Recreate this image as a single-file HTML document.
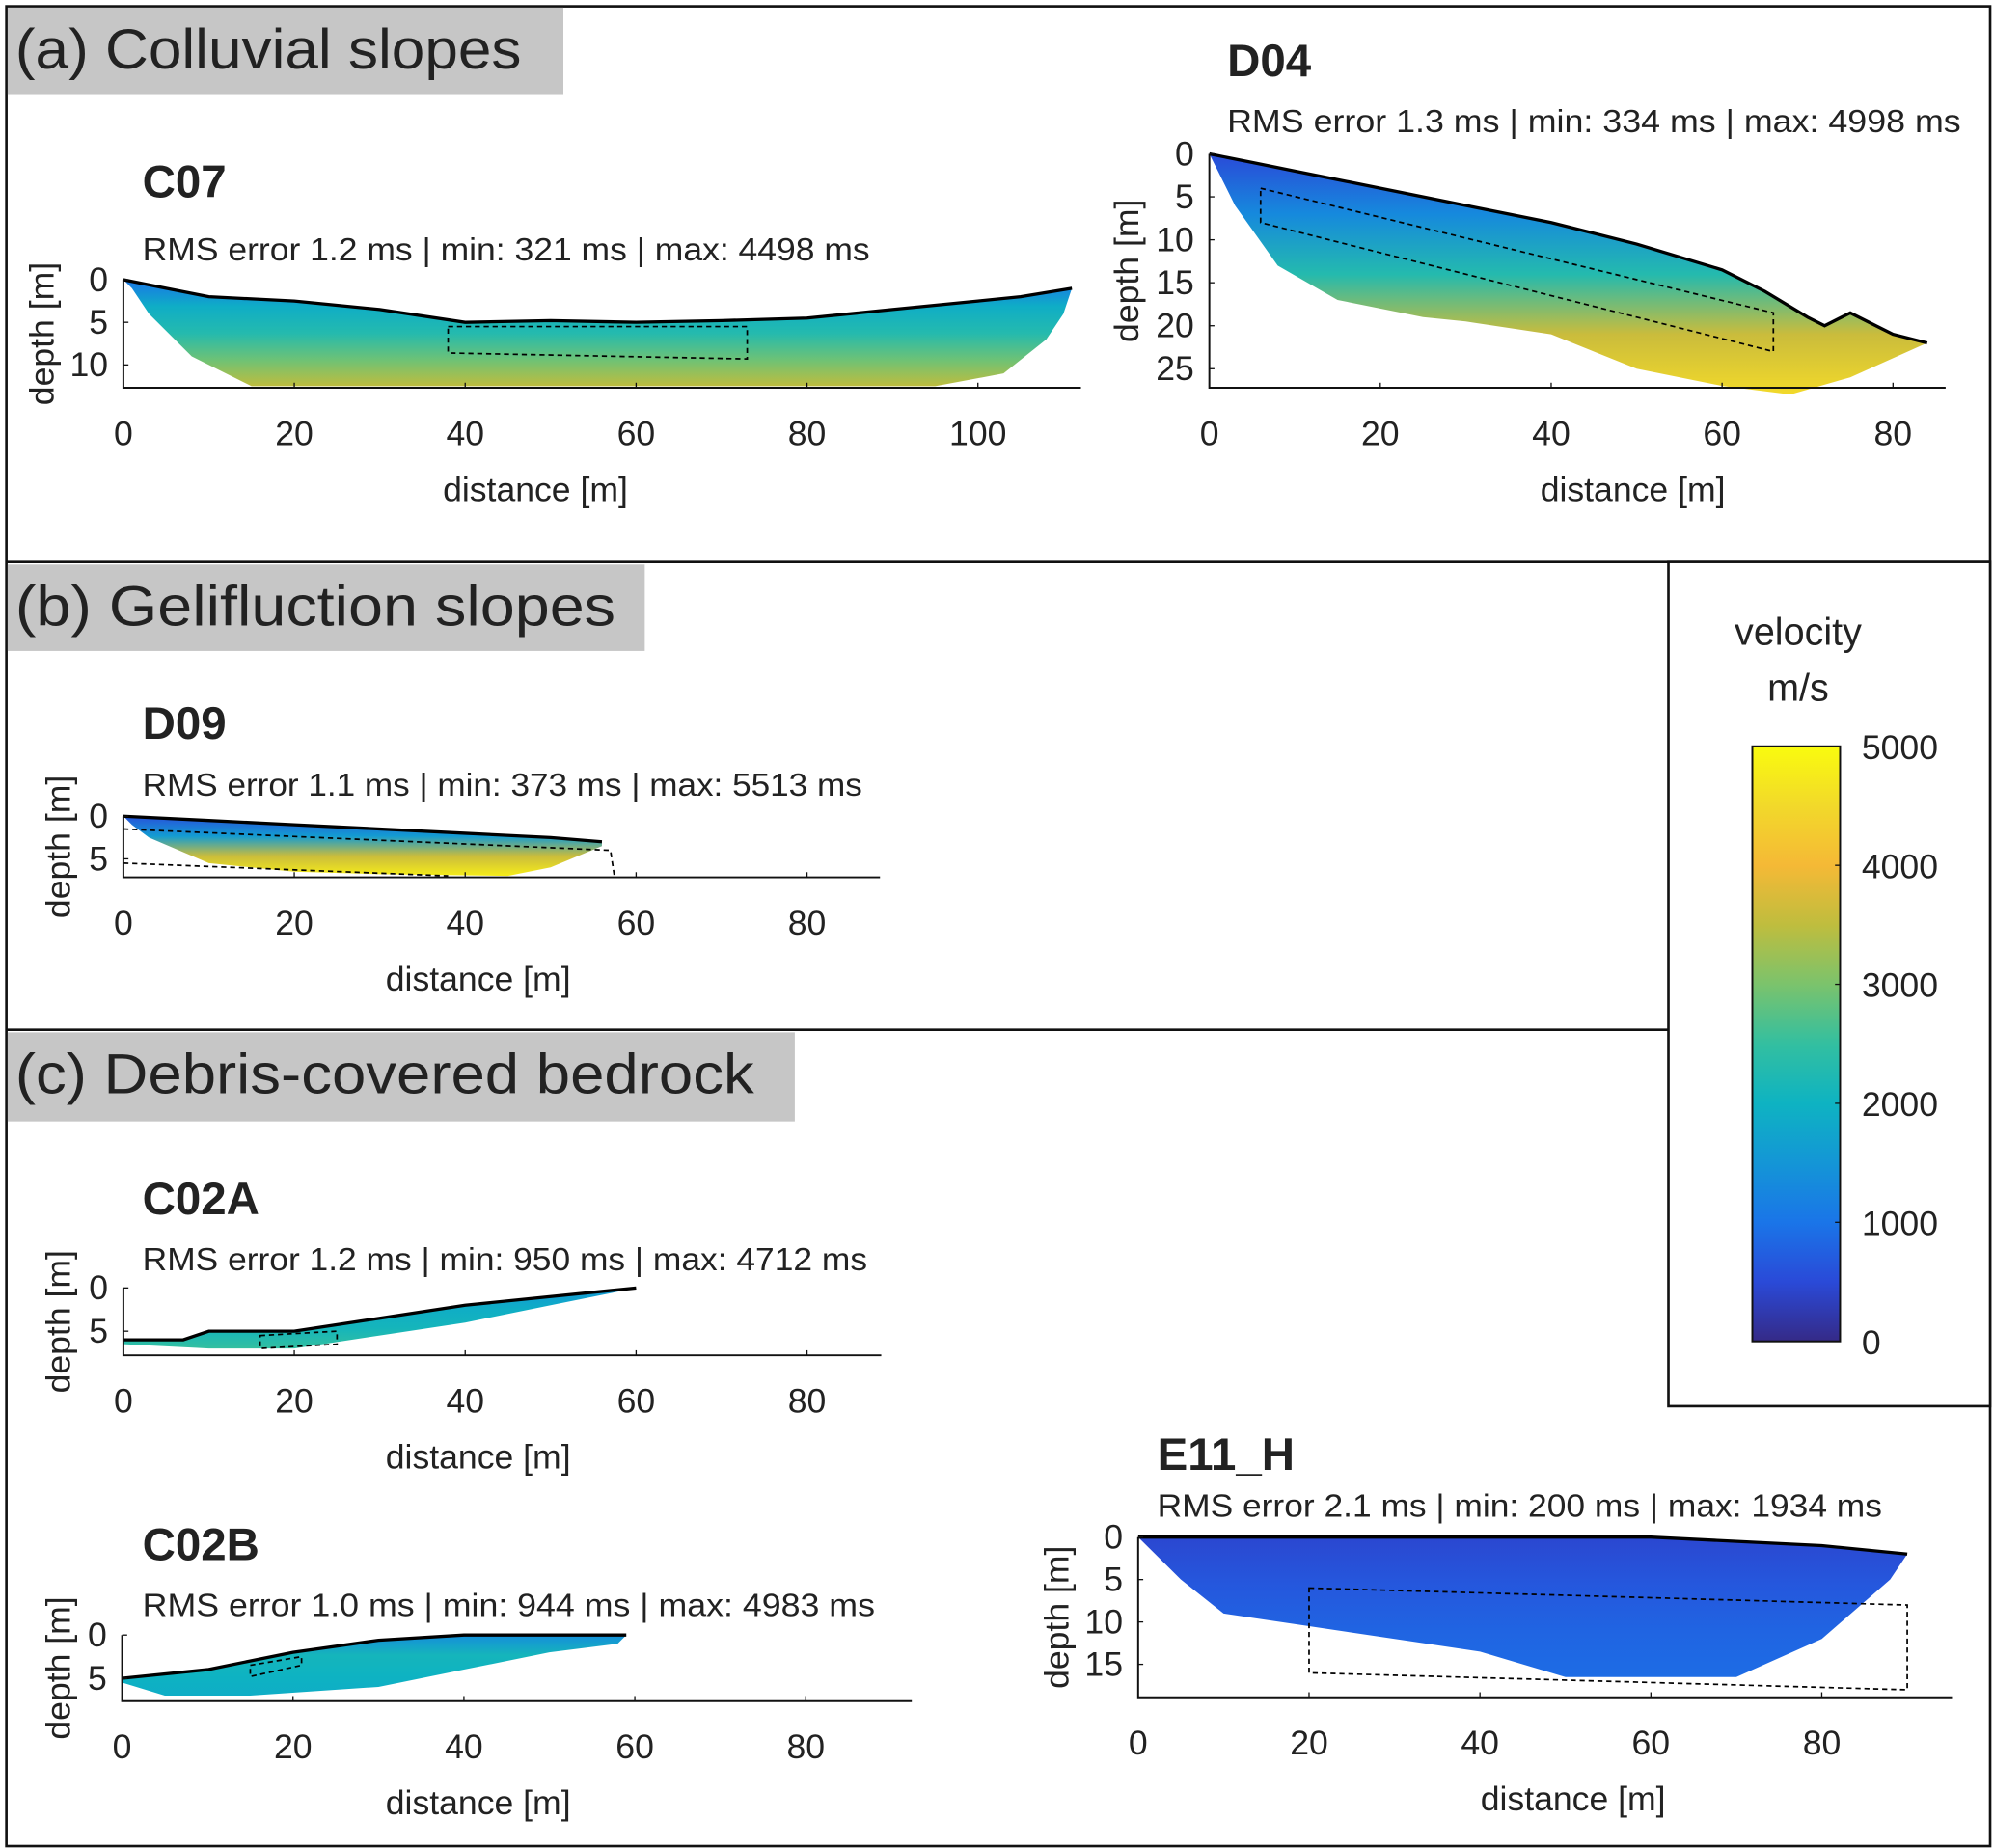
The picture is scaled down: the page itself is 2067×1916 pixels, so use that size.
<!DOCTYPE html>
<html><head><meta charset="utf-8"><style>
html,body{margin:0;padding:0;background:#fff}
svg{display:block}
text{font-family:"Liberation Sans",sans-serif;fill:#222}
</style></head><body>
<svg id="fig" width="2067" height="1916" viewBox="0 0 1568 1453.5" xmlns="http://www.w3.org/2000/svg">
<defs id="defs"></defs>
<rect x="5" y="5" width="1560" height="1447" fill="#fff" stroke="#111" stroke-width="2"/>
<line x1="5" y1="442" x2="1565" y2="442" stroke="#111" stroke-width="2"/>
<line x1="5" y1="810" x2="1312" y2="810" stroke="#111" stroke-width="2"/>
<rect x="1312" y="442" width="253" height="664" fill="#fff" stroke="#111" stroke-width="2"/>
<g><rect x="6" y="6" width="437" height="68" fill="#c6c6c6"/><text x="12" y="54" font-size="44" textLength="398" lengthAdjust="spacingAndGlyphs">(a) Colluvial slopes</text></g>
<g><rect x="6" y="444" width="501" height="68" fill="#c6c6c6"/><text x="12" y="492" font-size="44" textLength="472" lengthAdjust="spacingAndGlyphs">(b) Gelifluction slopes</text></g>
<g><rect x="6" y="812" width="619" height="70" fill="#c6c6c6"/><text x="12" y="860" font-size="44" textLength="581" lengthAdjust="spacingAndGlyphs">(c) Debris-covered bedrock</text></g>
<g id="cbar"></g>
<g id="panels"></g>
</svg>
<script>
// colormap (parula-like) stops: value fraction -> color
const cmapPos = [0, 0.1, 0.2, 0.3, 0.4, 0.5, 0.6, 0.7, 0.8, 0.9, 1.0];
const cmapCol = ["#352a87","#2a4ad8","#1a75e8","#1496d6","#0eb3c2","#33bfa0","#7bc36c","#bfbd3e","#f5b936","#f2d92a","#f9fb0e"];
const cbTicks = [0, 1000, 2000, 3000, 4000, 5000];

// C07
const c07SurfX = [0,5,10,20,30,40,50,60,70,80,90,100,105,111];
const c07SurfZ = [0,1,2,2.5,3.5,5,4.8,5,4.8,4.5,3.5,2.5,2,1];
const c07BotX = [111,110,108,103,95,80,60,40,20,15,8,3,1];
const c07BotZ = [1,4,7,11,12.5,12.5,12.5,12.5,12.5,12.5,9,4,1];
const c07Vel = [1000,1900,2300,2900,3500];
// C07 dashed box
const c07BoxX = [38,73,73,38]; const c07BoxZ = [5.5,5.5,9.3,8.6];
// D04
const d04SurfX = [0,5,10,20,30,40,50,60,65,70,72,75,78,80,84];
const d04SurfZ = [0,1,2,4,6,8,10.5,13.5,16,19,20,18.5,20,21,22];
const d04BotX = [84,75,68,60,50,40,30,25,15,8,3,0];
const d04BotZ = [22,26,28,27,25,21,19.5,19,17,13,6,0];
const d04Vel = [500,1300,2300,3600,4500];
const d04BoxX = [6,66,66,6]; const d04BoxZ = [4,18.5,23,8];
// D09
const d09SurfX = [0,10,20,30,40,50,56];
const d09SurfZ = [0,0.5,1,1.5,2,2.5,3];
const d09BotX = [56,50,45,30,20,10,3,1];
const d09BotZ = [3.5,6,7,6.8,6.5,5.5,2.5,1];
const d09Vel = [600,1600,3600,4800];
const d09Dash1X = [0,57,57.5]; const d09Dash1Z = [1.5,4,7.3];
const d09Dash2X = [0,38]; const d09Dash2Z = [5.5,7];
// C02A
const c02aSurfX = [0,7,10,20,30,40,50,60];
const c02aSurfZ = [6,6,5,5,3.5,2,1,0];
const c02aBotX = [59,50,40,30,20,10,0];
const c02aBotZ = [0.2,2,4,5.5,7,7,6.5];
const c02aVel = [1500,1900,2100,2500];
const c02aBoxX = [16,25,25,16]; const c02aBoxZ = [5.5,5,6.5,7];
// C02B
const c02bSurfX = [0,10,20,30,40,50,59];
const c02bSurfZ = [5,4,2,0.6,0,0,0];
const c02bBotX = [58,50,40,30,15,5,0];
const c02bBotZ = [1,2,4,6,7,7,5.5];
const c02bVel = [1400,2100,2000,1900];
const c02bBoxX = [15,21,21,15]; const c02bBoxZ = [3.5,2.5,3.5,4.8];
// E11_H
const e11SurfX = [0,30,60,80,90];
const e11SurfZ = [0,0,0,1,2];
const e11BotX = [90,88,80,70,50,40,20,10,5,0];
const e11BotZ = [2,5,12,16.5,16.5,13.5,10.5,9,5,0];
const e11Vel = [450,650,800,900];
const e11BoxX = [20,90,90,20]; const e11BoxZ = [6,8,18,16];

const NS = "http://www.w3.org/2000/svg";
const svg = document.getElementById("fig");
const defs = document.getElementById("defs");
function mk(tag, attrs, parent){const e=document.createElementNS(NS,tag);for(const k in attrs)e.setAttribute(k,attrs[k]);(parent||svg).appendChild(e);return e;}
function hex(c){return [1,3,5].map(i=>parseInt(c.substr(i,2),16));}
function cmap(v){let f=Math.max(0,Math.min(1,v/5000));for(let i=1;i<cmapPos.length;i++){if(f<=cmapPos[i]){const t=(f-cmapPos[i-1])/(cmapPos[i]-cmapPos[i-1]);const a=hex(cmapCol[i-1]),b=hex(cmapCol[i]);return "rgb("+a.map((x,j)=>Math.round(x+(b[j]-x)*t)).join(",")+")";}}return cmapCol[cmapCol.length-1];}

// colorbar
(function(){
  const g=document.getElementById("cbar");
  const gr=mk("linearGradient",{id:"cbgrad",x1:0,y1:1,x2:0,y2:0},defs);
  cmapPos.forEach((p,i)=>mk("stop",{offset:p,"stop-color":cmapCol[i]},gr));
  const y0=1055,y1=587;const ys=v=>y0+(y1-y0)*v/5000;
  const r=mk("rect",{x:1378,y:587,width:69,height:468,fill:"url(#cbgrad)",stroke:"#111","stroke-width":1.5},g);
  
  
  cbTicks.forEach(v=>{
    mk("line",{x1:1443,x2:1447,y1:ys(v),y2:ys(v),stroke:"#111"},g);
    const t=mk("text",{x:1464,y:ys(v)+10,"font-size":27},g);t.textContent=v;
    
    
  });
  const t1=mk("text",{x:1414,y:507,"font-size":30,"text-anchor":"middle"},g);t1.textContent="velocity";
  
  
  const t2=mk("text",{x:1414,y:551,"font-size":30,"text-anchor":"middle"},g);t2.textContent="m/s";
  
  
})();

function panel(c){
  const g=mk("g",{},document.getElementById("panels"));
  
  
  const X=d=>c.ox+d*c.sx, Z=d=>c.oy+d*c.sz;
  const t=mk("text",{x:c.tx,y:c.ty,"font-size":36,"font-weight":"bold"},g);t.textContent=c.title;
  
  
  const s=mk("text",{x:c.tx,y:c.sy,"font-size":25.5,textLength:c.sw,lengthAdjust:"spacingAndGlyphs"},g);s.textContent=c.sub;
  
  
  const gid="g_"+c.name;
  const zmax=Math.max(...c.botZ);const zmin=Math.min(...c.surfZ);
  const gr=mk("linearGradient",{id:gid,gradientUnits:"userSpaceOnUse",x1:0,y1:Z(zmin),x2:0,y2:Z(zmax)},defs);
  c.vel.forEach((v,i)=>mk("stop",{offset:i/(c.vel.length-1),"stop-color":cmap(v)},gr));
  let pts=[];c.surfX.forEach((x,i)=>pts.push(X(x)+","+Z(c.surfZ[i])));c.botX.forEach((x,i)=>pts.push(X(x)+","+Z(c.botZ[i])));
  const poly=mk("polygon",{points:pts.join(" "),fill:"url(#"+gid+")"},g);
  
  
  const sl=mk("polyline",{points:c.surfX.map((x,i)=>X(x)+","+Z(c.surfZ[i])).join(" "),fill:"none",stroke:"#000","stroke-width":2.5},g);
  
  
  (c.dashes||[]).forEach((d,k)=>{
    const e=mk(d.closed?"polygon":"polyline",{points:d.x.map((x,i)=>X(x)+","+Z(d.z[i])).join(" "),fill:"none",stroke:"#000","stroke-width":1.3,"stroke-dasharray":"4,3"},g);
    
    
  });
  const yb=c.axY;
  const ax=mk("path",{d:"M"+c.ox+","+Z(c.yTicks[0])+" V"+yb+" H"+c.axEnd,fill:"none",stroke:"#111","stroke-width":1.5},g);
  
  
  c.xTicks.forEach(v=>{
    mk("line",{x1:X(v),x2:X(v),y1:yb,y2:yb-4,stroke:"#111"},g);
    const l=mk("text",{x:X(v),y:yb+45,"font-size":27,"text-anchor":"middle"},g);l.textContent=v;
    
    
  });
  c.yTicks.forEach(v=>{
    mk("line",{x1:c.ox,x2:c.ox+4,y1:Z(v),y2:Z(v),stroke:"#111"},g);
    const l=mk("text",{x:c.ox-12,y:Z(v)+9,"font-size":27,"text-anchor":"end"},g);l.textContent=v;
    
    
  });
  const xl=mk("text",{x:c.xlx,y:yb+89,"font-size":27,"text-anchor":"middle"},g);xl.textContent="distance [m]";
  
  
  const ym=(Z(c.yTicks[0])+yb)/2;
  const yl=mk("text",{x:c.ylx,y:ym,"font-size":27,"text-anchor":"middle",transform:"rotate(-90 "+c.ylx+" "+ym+")"},g);yl.textContent="depth [m]";
  
  
}

panel({name:"c07",title:"C07",sub:"RMS error 1.2 ms | min: 321 ms | max: 4498 ms",tx:112,ty:155,sy:205,sw:572,ox:97,oy:220,sx:6.72,sz:6.7,axY:305,axEnd:850,
  xTicks:[0,20,40,60,80,100],yTicks:[0,5,10],xlx:421,ylx:42,surfX:c07SurfX,surfZ:c07SurfZ,botX:c07BotX,botZ:c07BotZ,vel:c07Vel,
  dashes:[{x:c07BoxX,z:c07BoxZ,closed:true}]});
panel({name:"d04",title:"D04",sub:"RMS error 1.3 ms | min: 334 ms | max: 4998 ms",tx:965,ty:60,sy:104,sw:577,ox:951,oy:121,sx:6.72,sz:6.76,axY:305,axEnd:1530,
  xTicks:[0,20,40,60,80],yTicks:[0,5,10,15,20,25],xlx:1284,ylx:895,surfX:d04SurfX,surfZ:d04SurfZ,botX:d04BotX,botZ:d04BotZ,vel:d04Vel,
  dashes:[{x:d04BoxX,z:d04BoxZ,closed:true}]});
panel({name:"d09",title:"D09",sub:"RMS error 1.1 ms | min: 373 ms | max: 5513 ms",tx:112,ty:581,sy:626,sw:566,ox:97,oy:642,sx:6.72,sz:6.7,axY:690,axEnd:692,
  xTicks:[0,20,40,60,80],yTicks:[0,5],xlx:376,ylx:55,surfX:d09SurfX,surfZ:d09SurfZ,botX:d09BotX,botZ:d09BotZ,vel:d09Vel,
  dashes:[{x:d09Dash1X,z:d09Dash1Z},{x:d09Dash2X,z:d09Dash2Z}]});
panel({name:"c02a",title:"C02A",sub:"RMS error 1.2 ms | min: 950 ms | max: 4712 ms",tx:112,ty:955,sy:999,sw:570,ox:97,oy:1013,sx:6.72,sz:6.8,axY:1066,axEnd:693,
  xTicks:[0,20,40,60,80],yTicks:[0,5],xlx:376,ylx:55,surfX:c02aSurfX,surfZ:c02aSurfZ,botX:c02aBotX,botZ:c02aBotZ,vel:c02aVel,
  dashes:[{x:c02aBoxX,z:c02aBoxZ,closed:true}]});
panel({name:"c02b",title:"C02B",sub:"RMS error 1.0 ms | min: 944 ms | max: 4983 ms",tx:112,ty:1227,sy:1271,sw:576,ox:96,oy:1286,sx:6.72,sz:6.8,axY:1338,axEnd:717,
  xTicks:[0,20,40,60,80],yTicks:[0,5],xlx:376,ylx:55,surfX:c02bSurfX,surfZ:c02bSurfZ,botX:c02bBotX,botZ:c02bBotZ,vel:c02bVel,
  dashes:[{x:c02bBoxX,z:c02bBoxZ,closed:true}]});
panel({name:"e11h",title:"E11_H",sub:"RMS error 2.1 ms | min: 200 ms | max: 1934 ms",tx:910,ty:1156,sy:1193,sw:570,ox:895,oy:1209,sx:6.72,sz:6.67,axY:1335,axEnd:1535,
  xTicks:[0,20,40,60,80],yTicks:[0,5,10,15],xlx:1237,ylx:840,surfX:e11SurfX,surfZ:e11SurfZ,botX:e11BotX,botZ:e11BotZ,vel:e11Vel,
  dashes:[{x:e11BoxX,z:e11BoxZ,closed:true}]});
</script>
</body></html>
